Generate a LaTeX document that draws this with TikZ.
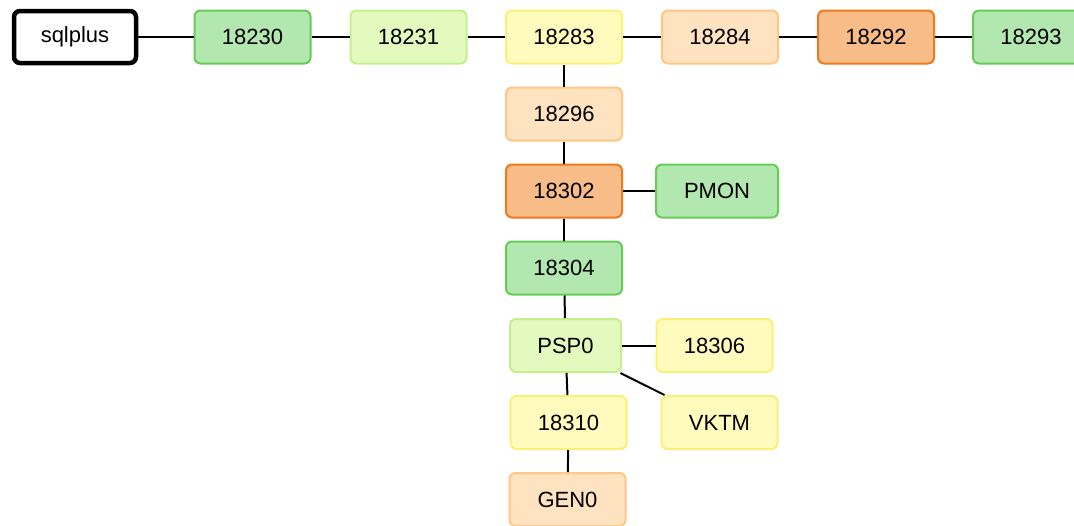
\documentclass[tikz,border=0pt]{standalone}
\usepackage{fontspec}
\setmainfont{Liberation Sans}
\usepackage{tikz}

\definecolor{grnfill}{HTML}{B3E7B0}
\definecolor{grnline}{HTML}{66CC55}
\definecolor{limefill}{HTML}{E2FABD}
\definecolor{limeline}{HTML}{C6EE8E}
\definecolor{yelfill}{HTML}{FFFBBD}
\definecolor{yelline}{HTML}{FCEF78}
\definecolor{pchfill}{HTML}{FFE2BF}
\definecolor{pchline}{HTML}{FEC884}
\definecolor{orgfill}{HTML}{F8BC88}
\definecolor{orgline}{HTML}{EE7A1E}

\begin{document}
\begin{tikzpicture}[x=1pt,y=-1pt,
    proc/.style={rectangle,rounded corners=6pt,line width=2pt,
      minimum width=116pt,minimum height=53pt,inner sep=0pt,
      font=\fontsize{22}{26}\selectfont},
    root/.style={proc,draw=black,fill=white,line width=4.5pt,
      minimum width=122pt,minimum height=52pt},
    grn/.style={proc,draw=grnline,fill=grnfill},
    lime/.style={proc,draw=limeline,fill=limefill},
    yel/.style={proc,draw=yelline,fill=yelfill},
    pch/.style={proc,draw=pchline,fill=pchfill},
    org/.style={proc,draw=orgline,fill=orgfill},
    link/.style={line width=2pt,black}]

  \useasboundingbox (0,0) rectangle (1074,525);
  \clip (0,0) rectangle (1074,525);

  % --- top row ---
  \node[root] (sqlplus) at (75,37) {sqlplus};
  \node[grn]  (p18230)  at (252.5,37) {18230};
  \node[lime] (p18231)  at (408.5,37) {18231};
  \node[yel]  (p18283)  at (564,37) {18283};
  \node[pch]  (p18284)  at (720,37) {18284};
  \node[org]  (p18292)  at (876,37) {18292};
  \node[grn]  (p18293)  at (1031,37) {18293};

  % --- column below 18283 ---
  \node[pch]  (p18296)  at (564,114) {18296};
  \node[org]  (p18302)  at (564,191) {18302};
  \node[grn,minimum width=122pt] (pmon) at (717,191) {PMON};
  \node[grn]  (p18304)  at (564,268) {18304};
  \node[lime,minimum width=111pt] (psp0) at (565.5,345.5) {PSP0};
  \node[yel]  (p18306)  at (714.5,345.5) {18306};
  \node[yel]  (p18310)  at (568.5,422.5) {18310};
  \node[yel]  (vktm)    at (719.5,422.5) {VKTM};
  \node[pch]  (gen0)    at (567.5,499.5) {GEN0};

  % --- links ---
  \foreach \a/\b in {sqlplus/p18230, p18230/p18231, p18231/p18283,
      p18283/p18284, p18284/p18292, p18292/p18293,
      p18283/p18296, p18296/p18302, p18302/pmon, p18302/p18304,
      p18304/psp0, psp0/p18306, psp0/vktm, psp0/p18310, p18310/gen0}
    \draw[link] (\a) -- (\b);

\end{tikzpicture}
\end{document}
